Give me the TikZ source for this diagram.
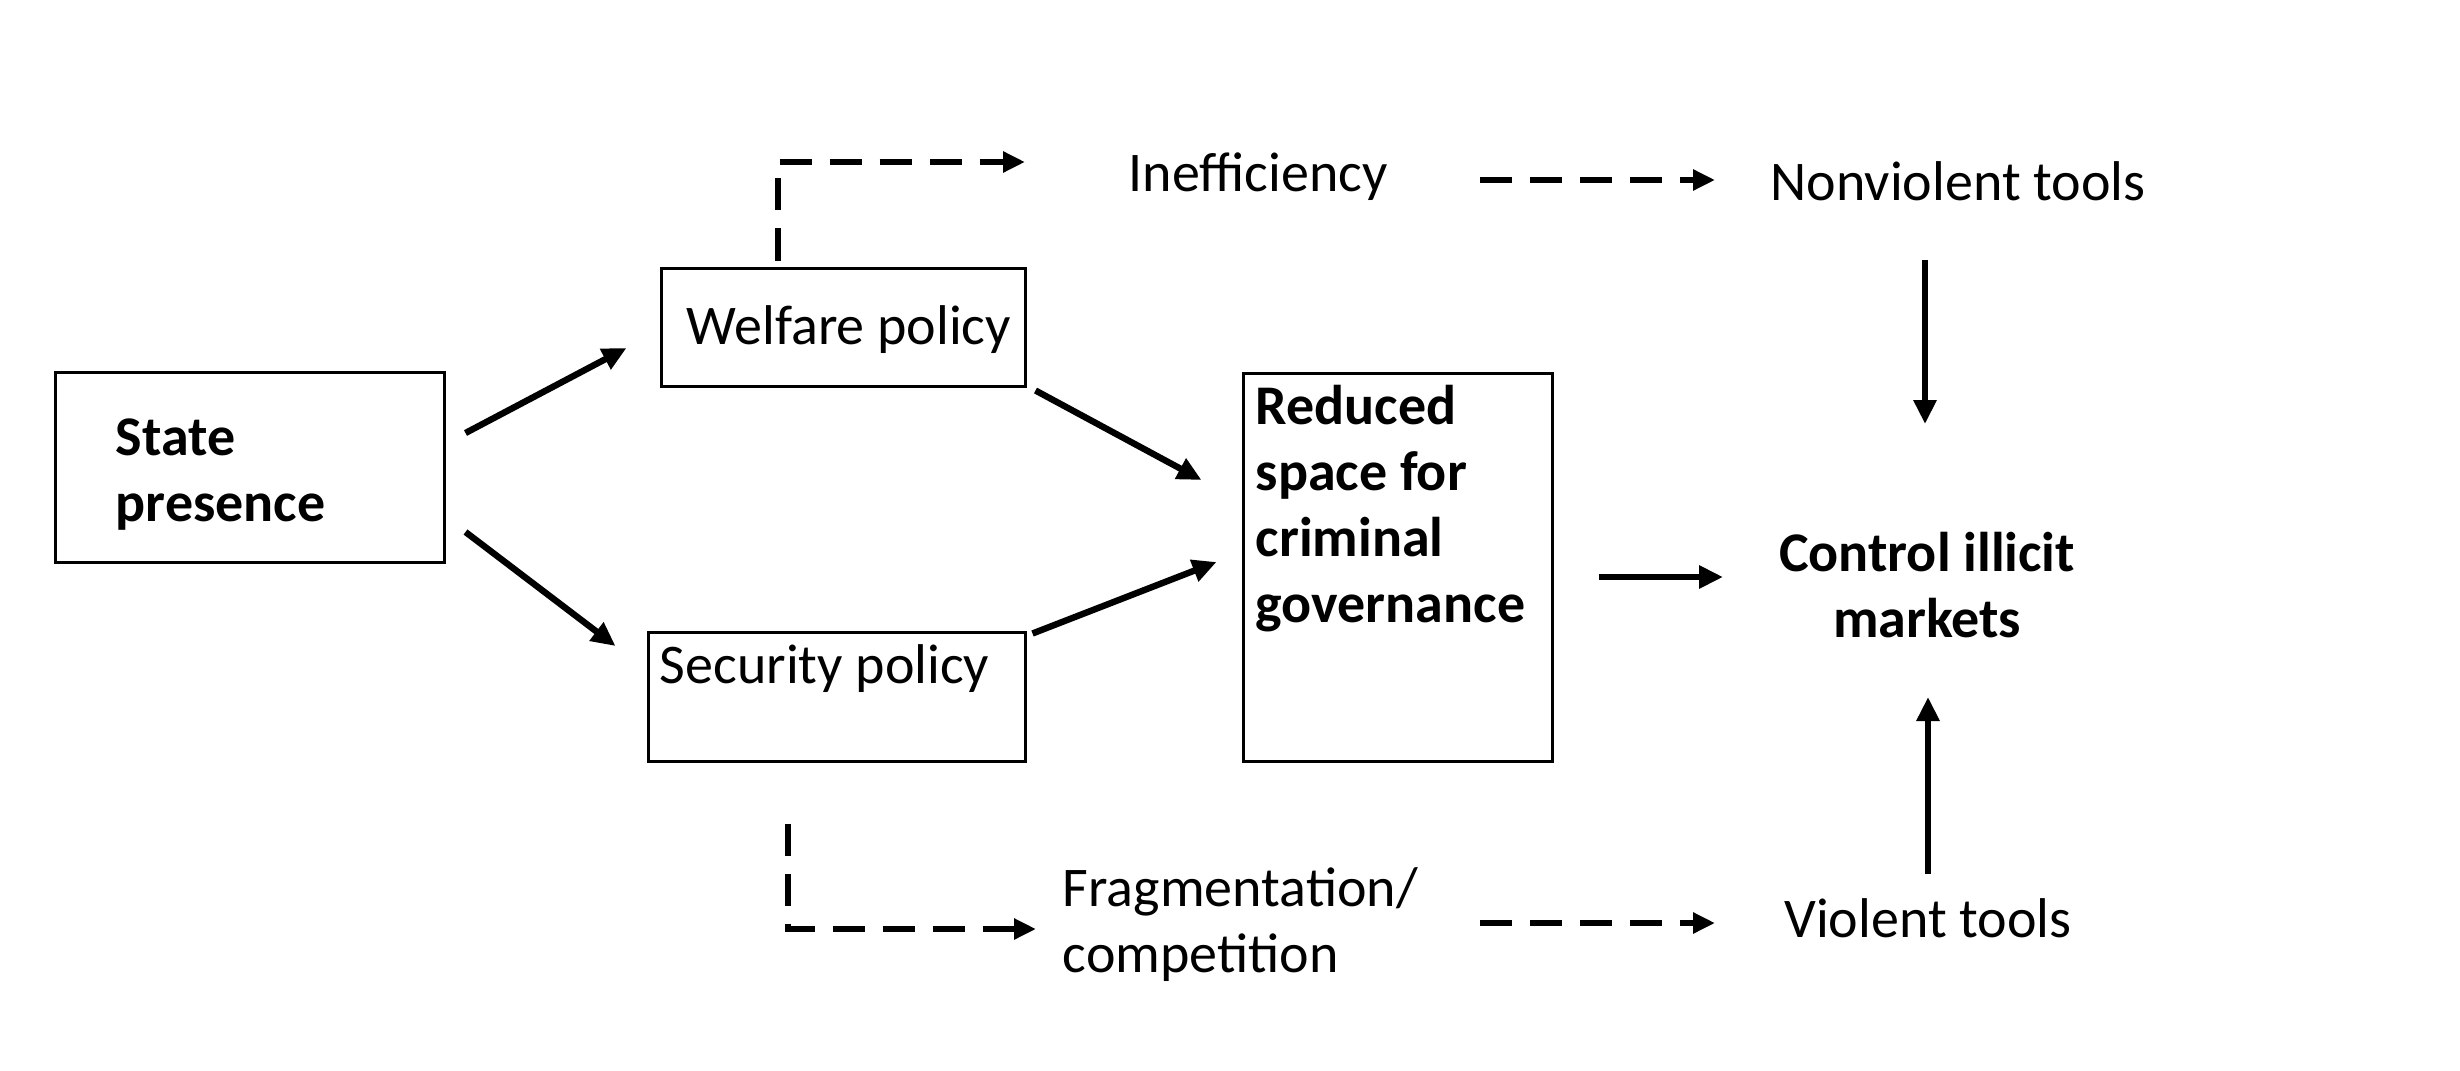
\documentclass[tikz,border=0pt]{standalone}
\usepackage{fontspec}
\setmainfont{Carlito}
\usetikzlibrary{arrows.meta}
\begin{document}
\begin{tikzpicture}[x=0.25pt,y=-0.25pt,
 box/.style={draw,line width=0.75pt,inner sep=0pt},
 txt/.style={inner sep=0pt,font=\fontsize{14}{16.5}\selectfont,align=left},
 btxt/.style={inner sep=0pt,font=\fontsize{14}{16.5}\selectfont\bfseries,align=left},
 arr/.style={line width=1.6pt,-{Triangle[length=6pt,width=5.5pt]}},
 darr/.style={line width=1.6pt,dash pattern=on 8pt off 4.5pt,-{Triangle[length=5.5pt,width=5pt]}}]
\useasboundingbox (0,0) rectangle (2460,1070);
\fill[white] (0,0) rectangle (2460,1070);
% boxes
\node[box,minimum width=97.25pt,minimum height=47.5pt] (sp) at (249.5,467) {};
\node[box,minimum width=91pt,minimum height=29.5pt] (wp) at (843,327) {};
\node[box,minimum width=94.25pt,minimum height=32.25pt] (scp) at (836.5,696.5) {};
\node[box,minimum width=77.25pt,minimum height=97pt] (rs) at (1397.5,567) {};
% texts
\node[btxt,anchor=west] (spt) at (115,475) {State\\presence};
\node[txt,anchor=west] (wpt) at (686,330) {Welfare policy};
\node[txt,anchor=west] (scpt) at (659,669) {Security policy};
\node[btxt,anchor=west] (rst) at (1255,509) {Reduced\\space for\\criminal\\governance};
\node[btxt,align=center] (cm) at (1927,585) {Control illicit\\markets};
\node[txt] (ie) at (1258,177) {Inefficiency};
\node[txt] (nv) at (1958,181) {Nonviolent tools};
\node[txt,anchor=west] (fc) at (1062,925) {Fragmentation/\\competition};
\node[txt] (vt) at (1928,918) {Violent tools};
% solid arrows
\draw[arr] ([shift={(20,-34)}]sp.east) -- ([shift={(-33,21)}]wp.west);
\draw[arr] ([shift={(20,65)}]sp.east) -- ([shift={(-31,-50.5)}]scp.west);
\draw[arr] ([shift={(9,3)}]wp.south east) -- ([shift={(-40,-87)}]rs.west);
\draw[arr] ([shift={(6,3)}]scp.north east) -- ([shift={(-25,-5)}]rs.west);
\draw[arr] ([shift={(45,10)}]rs.east) -- ([shift={(-204,-8)}]cm.center);
\draw[arr] ([shift={(-33,79)}]nv.center) -- ([shift={(-2,-161)}]cm.center);
\draw[arr] ([shift={(0,-44)}]vt.center) -- ([shift={(1,112)}]cm.center);
% dashed arrows
\draw[darr] ([shift={(-65,-6)}]wp.north) |- ([shift={(-233,-15)}]ie.center);
\draw[darr] ([shift={(222,3)}]ie.center) -- ([shift={(-243,-1)}]nv.center);
\draw[darr] ([shift={(-48.5,61)}]scp.south) |- ([shift={(-26,4)}]fc.west);
\draw[darr] ([shift={(418,-2)}]fc.west) -- ([shift={(-213,5)}]vt.center);
\end{tikzpicture}
\end{document}
